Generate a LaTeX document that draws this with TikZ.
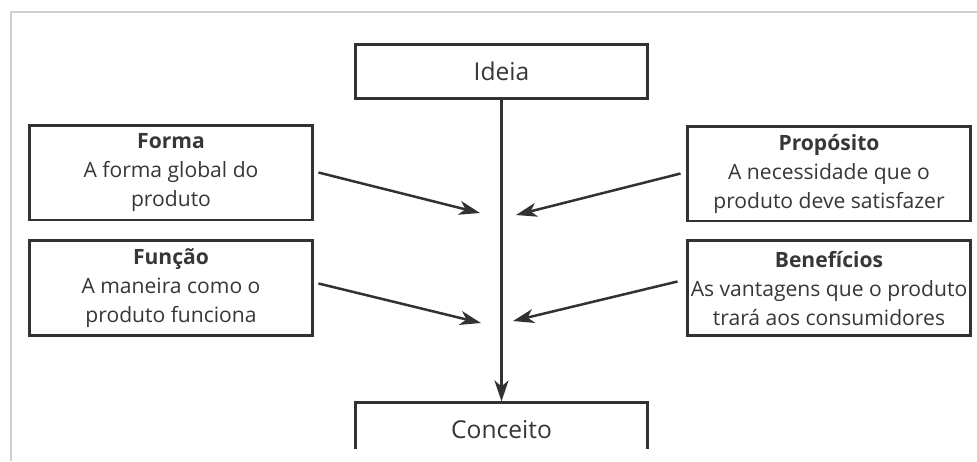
\documentclass[tikz,border=0pt]{standalone}
\usepackage{fontspec}
\setmainfont{Open Sans}
\usetikzlibrary{positioning,arrows.meta}
\definecolor{InkGray}{RGB}{50,50,50}
\definecolor{TextGray}{RGB}{55,55,55}
\definecolor{FrameGray}{RGB}{208,208,208}
\tikzset{
  flow/.style={-{Stealth[length=4.2mm,width=2.8mm,inset=1.2mm]},line width=0.05cm,draw=InkGray},
  box/.style={draw=InkGray,line width=0.06cm,fill=white,align=center,text=TextGray,
    minimum width=5.68cm,minimum height=1.9cm,inner sep=0pt,
    font=\fontsize{12}{16.5}\selectfont},
  bigbox/.style={draw=InkGray,line width=0.06cm,fill=white,text=TextGray,
    minimum width=5.86cm,minimum height=1.08cm,inner sep=0pt,
    font=\fontsize{14}{17}\selectfont}
}

\begin{document}
\begin{tikzpicture}[x=0.02cm,y=-0.02cm,node distance=0.36cm]
  \useasboundingbox (0,0) rectangle (977,461);
  % screenshot frame
  \draw[FrameGray,line width=0.04cm] (11,461) |- (977,12);
  \node[bigbox] (ideia) at (501.5,71) {Ideia};
  \begin{scope}
    \clip (0,0) rectangle (977,448);
    \node[bigbox,below=6.04cm of ideia] (conceito) {Conceito};
  \end{scope}
  % left side
  \node[box] (forma) at (171,172.5) {\textbf{Forma}\\A forma global do\\produto};
  \node[box,below=of forma] (funcao) {\textbf{Função}\\A maneira como o\\produto funciona};
  % right side
  \node[box] (proposito) at (829,173.5) {\textbf{Propósito}\\A necessidade que o\\produto deve satisfazer};
  \node[box,below=0.34cm of proposito] (beneficios) {\textbf{Benefícios}\\As vantagens que o produto\\trará aos consumidores};
  \coordinate (alvoForma) at (480,213);
  \coordinate (alvoFuncao) at (481,323);
  \coordinate (alvoProposito) at (516,215);
  \coordinate (alvoBeneficios) at (513,321);
  \draw[flow] (ideia) -- (conceito);
  \draw[flow] ([xshift=0.08cm]forma.east) -- (alvoForma);
  \draw[flow] ([xshift=0.08cm,yshift=0.1cm]funcao.east) -- (alvoFuncao);
  \draw[flow] ([xshift=-0.1cm]proposito.east-|proposito.west) -- (alvoProposito);
  \draw[flow] ([xshift=-0.16cm,yshift=0.14cm]beneficios.west) -- (alvoBeneficios);
\end{tikzpicture}
\end{document}
